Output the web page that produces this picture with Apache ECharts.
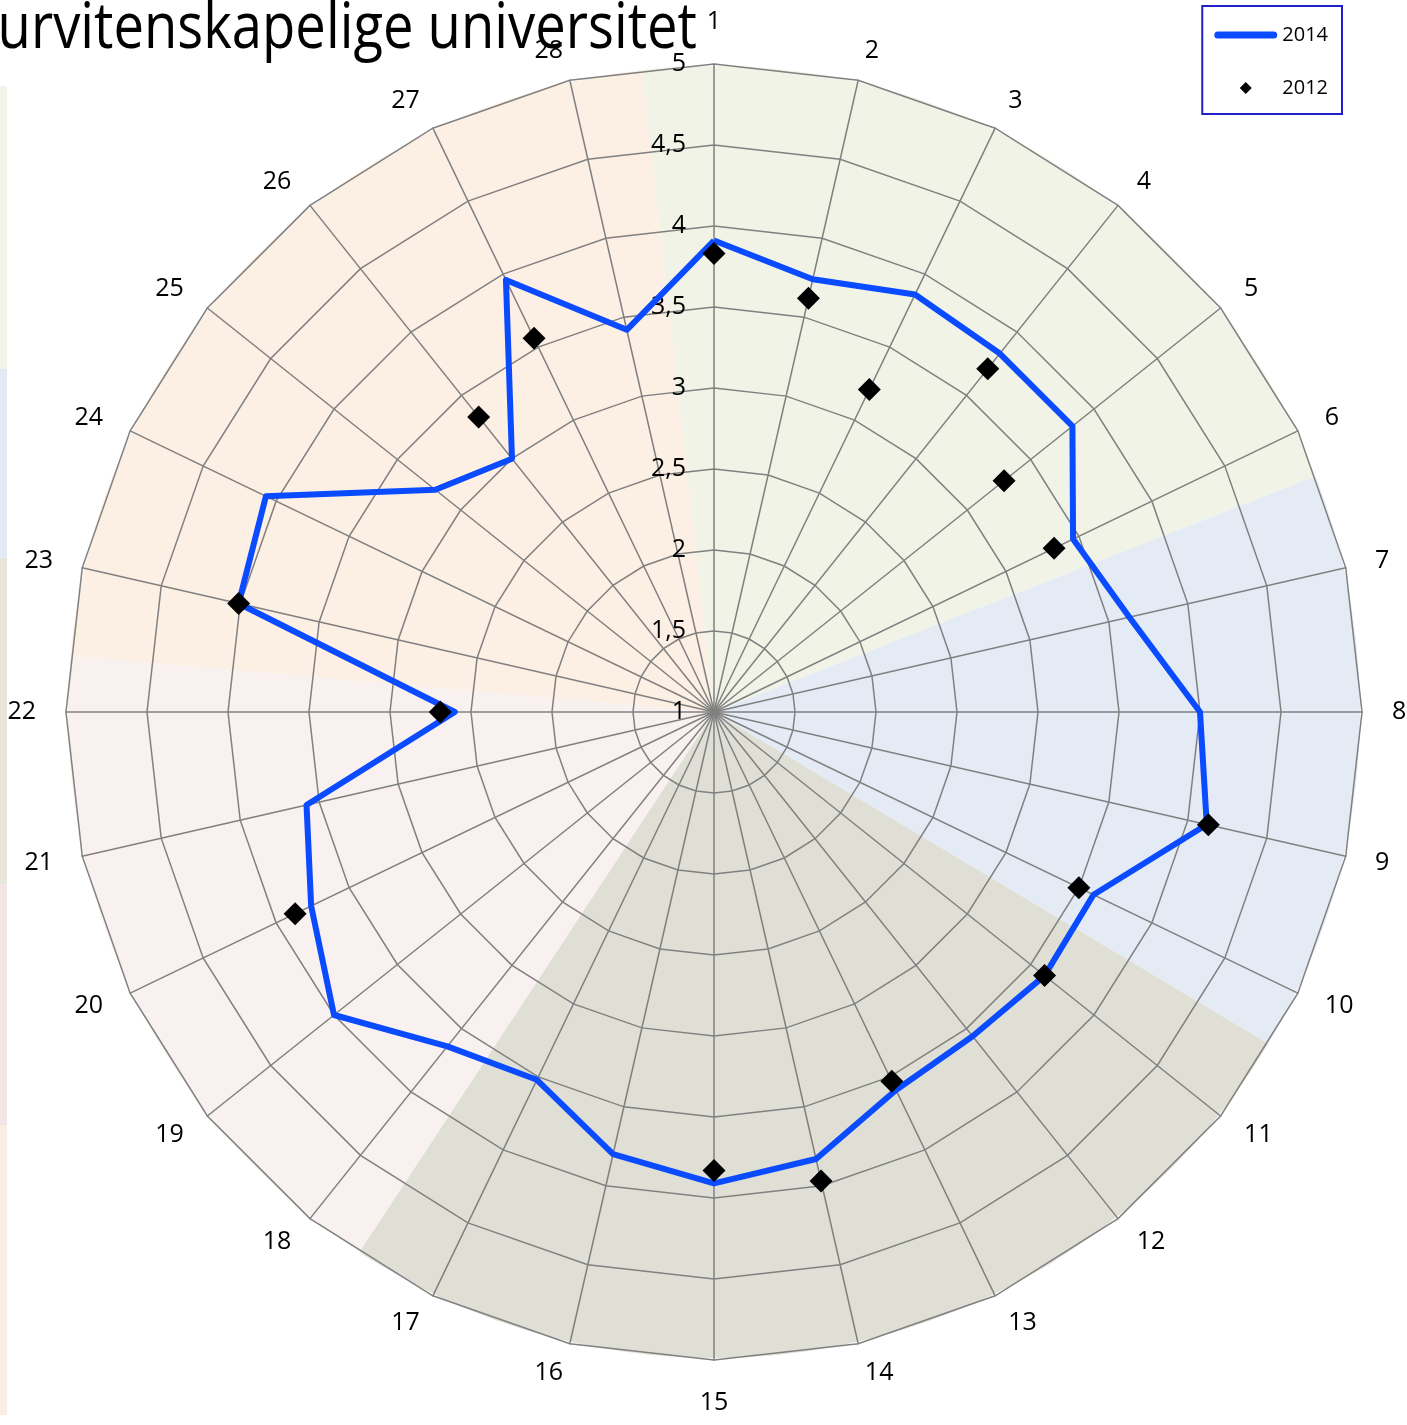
<!DOCTYPE html>
<html lang="no">
<head>
    <meta charset="UTF-8">
    <title>Spørsmål 1-28, 2014 og 2012</title>
    <style>
        html, body { margin: 0; padding: 0; background: #fff; }
        #main { width: 1407px; height: 1425px; }
    </style>
</head>
<body>
<div id="main"></div>
<script src="https://cdn.jsdelivr.net/npm/echarts@6/dist/echarts.min.js"></script>
<script>
    // spørsmålene rundt diagrammet
    var sporsmal = ['1', '2', '3', '4', '5', '6', '7', '8', '9', '10', '11', '12', '13', '14',
        '15', '16', '17', '18', '19', '20', '21', '22', '23', '24', '25', '26', '27', '28'];

    // snitt 2014 (linje)
    var verdi2014 = [3.91, 3.74, 3.86, 3.83, 3.83, 3.46, 3.63, 4.00, 4.12, 3.60, 3.61, 3.56, 3.59, 3.83,
        3.91, 3.80, 3.52, 3.64, 4.00, 3.76, 3.58, 2.60, 4.01, 4.07, 3.20, 3.00, 3.96, 3.42];

    // snitt 2012 (bare punkter, null = ikke spurt)
    var verdi2012 = [3.83, 3.62, 3.21, 3.71, 3.29, 3.33, null, null, 4.13, 3.50, 3.61, null, 3.53, 3.97,
        3.83, null, null, null, null, 3.87, null, 2.69, 4.01, null, null, 3.33, 3.56, null];

    // skala
    var skalaMin = 1;
    var skalaMax = 5;

    // bakgrunnssektorer (andel av sirkelen) og farger
    var sektorAndel = [75.0, 52.3, 92.4, 61.7, 78.6];
    var sektorFarge = ['#F0F3E6', '#E4EBF5', '#E0DFD6', '#F9F0F0', '#FCEFE4'];

    // stripe helt til venstre (rest av et annet diagram)
    var stripeAndel = [21.3, 14.2, 24.6, 18.1, 21.8];
    var stripeFarge = ['#F1F4E8', '#E3EAF5', '#E8E6DB', '#F5E4E5', '#FCEDE2'];

    var fontNavn = '"Open Sans", "Noto Sans", sans-serif';

    // echarts radar går mot klokka, så rekkefølgen snus (1 først, så 28, 27 ...)
    var rekkefolge = [0];
    for (var i = sporsmal.length - 1; i >= 1; i--) {
        rekkefolge.push(i);
    }

    var indikatorer = rekkefolge.map(function (idx, pos) {
        var ind = {name: sporsmal[idx], min: skalaMin, max: skalaMax};
        if (pos === 0) {
            ind.axisLabel = {
                show: true,
                color: '#000',
                fontSize: 25,
                fontFamily: fontNavn,
                margin: 28,
                formatter: function (v) {
                    return String(v).replace('.', ',');
                }
            };
        }
        return ind;
    });
    var radar2014 = rekkefolge.map(function (idx) {
        return verdi2014[idx];
    });

    var punkter2012 = [];
    for (var j = 0; j < verdi2012.length; j++) {
        if (verdi2012[j] !== null) {
            punkter2012.push([verdi2012[j], j]);
        }
    }

    var stripeSerier = stripeAndel.map(function (v, k) {
        return {
            type: 'bar',
            stack: 'stripe',
            barWidth: '100%',
            silent: true,
            itemStyle: {color: stripeFarge[k]},
            data: [v]
        };
    });

    var linjeIkon = 'path://M3.5,0H59.5A3.5,3.5,0,0,1,59.5,7H3.5A3.5,3.5,0,0,1,3.5,0Z';
    var rutIkonSti = 'path://M6,0L12,6L6,12L0,6Z';

    var app = echarts.init(document.getElementById('main'));
    var option = {
        animation: false,
        backgroundColor: '#fff',
        // tittelen er kuttet i venstre kant, litt sammenpresset som i originalen
        graphic: [{
            type: 'text',
            x: 697,
            y: -2,
            z: 100,
            scaleX: 0.85,
            silent: true,
            style: {
                text: 'urvitenskapelige universitet',
                font: '64px "Open Sans", "Noto Sans", sans-serif',
                fill: '#000',
                align: 'right',
                verticalAlign: 'top'
            }
        }],
        legend: {
            orient: 'vertical',
            right: 65,
            top: 6,
            padding: [19, 14, 16, 12],
            itemGap: 33,
            itemWidth: 63,
            itemHeight: 12,
            borderColor: '#1F1FCC',
            borderWidth: 2,
            backgroundColor: '#fff',
            selectedMode: false,
            textStyle: {fontFamily: fontNavn, fontSize: 20, color: '#000'},
            data: [
                {name: '2014', icon: linjeIkon, itemStyle: {color: '#0A4BFF', borderWidth: 0}},
                {name: '2012', icon: rutIkonSti, itemStyle: {color: '#000', borderWidth: 0, opacity: 1}}
            ]
        },
        grid: {left: 0, top: 86, width: 7, height: 1329},
        xAxis: {type: 'category', data: [''], show: false},
        yAxis: {type: 'value', inverse: true, min: 0, max: 100, show: false},
        radar: {
            center: [714, 712],
            radius: 648,
            startAngle: 90,
            shape: 'polygon',
            splitNumber: 8,
            z: 5,
            nameGap: 30,
            axisName: {color: '#000', fontSize: 25, fontFamily: fontNavn},
            axisLine: {lineStyle: {color: '#808080', width: 1.5}},
            splitLine: {lineStyle: {color: '#808080', width: 1.5}},
            splitArea: {show: false},
            axisLabel: {show: false},
            axisTick: {show: false},
            indicator: indikatorer
        },
        polar: {center: [714, 712], radius: 648},
        angleAxis: {
            type: 'category',
            data: sporsmal,
            boundaryGap: false,
            startAngle: 90,
            clockwise: true,
            show: false
        },
        radiusAxis: {type: 'value', min: skalaMin, max: skalaMax, show: false},
        series: [
            {
                type: 'pie',
                center: [714, 712],
                radius: [0, 646],
                startAngle: 96.4,
                clockwise: true,
                silent: true,
                z: 1,
                label: {show: false},
                labelLine: {show: false},
                itemStyle: {borderWidth: 0},
                data: sektorAndel.map(function (v, k) {
                    return {value: v, name: 'sektor' + (k + 1), itemStyle: {color: sektorFarge[k]}};
                })
            },
            {
                type: 'radar',
                z: 6,
                silent: true,
                symbol: 'none',
                data: [{
                    name: '2014',
                    value: radar2014,
                    lineStyle: {color: '#0A4BFF', width: 6},
                    itemStyle: {color: '#0A4BFF'}
                }]
            },
            {
                name: '2012',
                type: 'scatter',
                coordinateSystem: 'polar',
                z: 8,
                silent: true,
                symbol: 'diamond',
                symbolSize: 23,
                itemStyle: {color: '#000', opacity: 1},
                data: punkter2012
            }
        ].concat(stripeSerier)
    };
    app.setOption(option);
</script>
</body>
</html>
